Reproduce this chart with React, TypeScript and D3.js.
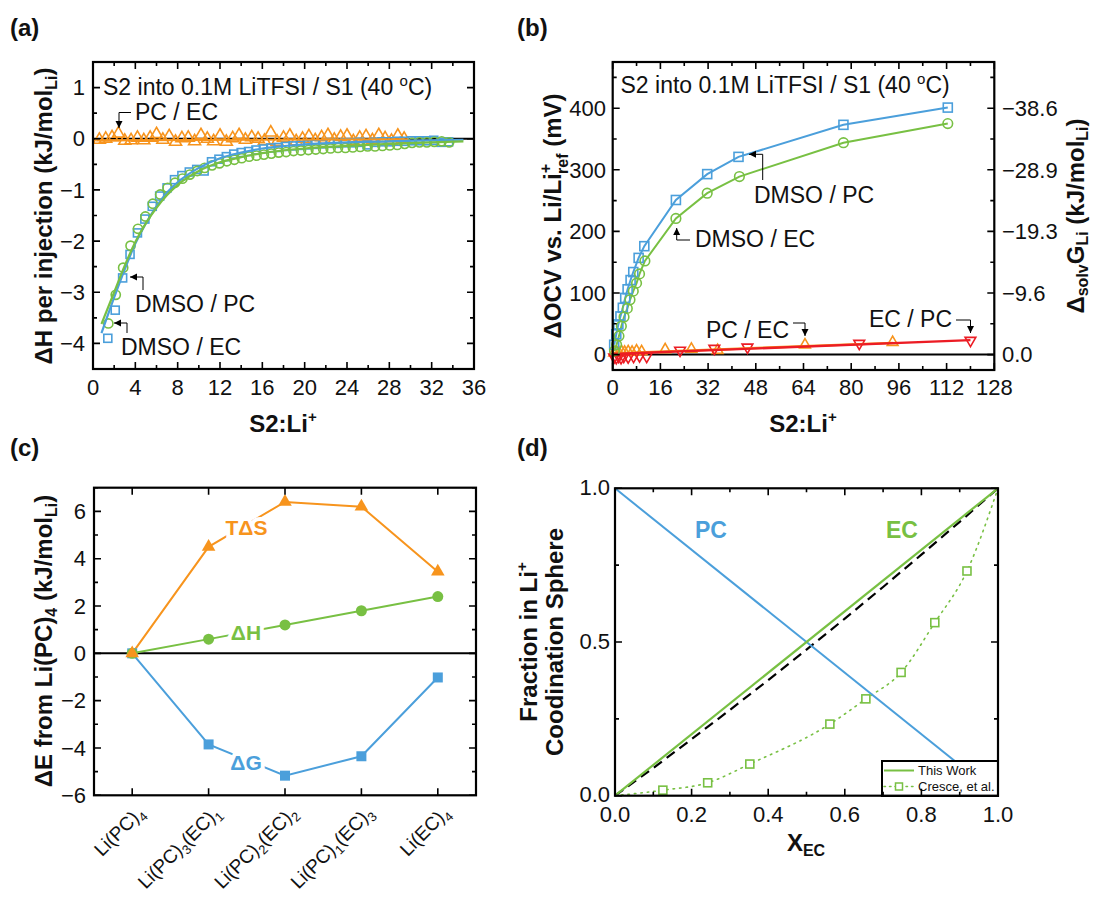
import React from 'react'
import * as d3 from 'd3'

const FONT = 'Arial, "Liberation Sans", Helvetica, sans-serif'
const BLUE = '#4b9fdb'
const ORANGE = '#f7941d'
const GREEN = '#78c043'
const RED = '#ec1c24'

// (a) heat per injection
const pcEcX = [0.6, 1.2, 1.8, 2.4, 3.0, 3.6, 4.2, 4.8, 5.4, 6.0, 6.6, 7.2, 7.8, 8.4, 9.0, 9.6, 10.2, 10.8, 11.4, 12.0,
  12.6, 13.2, 13.8, 14.4, 15.0, 15.6, 16.2, 16.8, 17.4, 18.0, 18.6, 19.2, 19.8, 20.4, 21.0, 21.6, 22.2, 22.8, 23.4, 24.0,
  24.6, 25.2, 25.8, 26.4, 27.0, 27.6, 28.2, 28.8, 29.4]
const pcEcDH = [-0.02, 0.0, 0.03, 0.1, -0.04, -0.03, 0.02, -0.03, 0.02, 0.09, -0.02, 0.05, -0.06, 0.01, 0.02, -0.05, 0.07, 0.0, -0.05, 0.06,
  -0.06, 0.01, 0.07, -0.02, 0.03, 0.0, -0.04, 0.12, -0.06, 0.02, 0.06, -0.05, 0.0, 0.05, -0.03, 0.03, 0.07, -0.02, 0.04, 0.06,
  -0.05, 0.02, 0.05, -0.03, 0.07, 0.01, -0.04, 0.06, 0.0]
const dmsoPcX = [1.4, 2.1, 2.8, 3.5, 4.2, 4.9, 5.6, 6.3, 7.0, 7.7, 8.4, 9.1, 9.8, 10.5, 11.2, 11.9, 12.6, 13.3, 14.0, 14.7,
  15.4, 16.1, 16.8, 17.5, 18.2, 18.9, 19.6, 20.3, 21.0, 21.7, 22.4, 23.1, 23.8, 24.5, 25.2, 25.9, 26.6, 27.3, 28.0, 28.7,
  29.4, 30.1, 30.8, 31.5, 32.2, 32.9, 33.6]
const dmsoPcDH = [-3.9, -3.35, -2.72, -2.26, -1.84, -1.57, -1.32, -1.12, -0.96, -0.8, -0.72, -0.65, -0.6, -0.63, -0.45, -0.4, -0.35, -0.3, -0.27, -0.25,
  -0.22, -0.2, -0.18, -0.17, -0.15, -0.14, -0.13, -0.12, -0.11, -0.1, -0.09, -0.09, -0.08, -0.08, -0.07, -0.12, -0.07, -0.06, -0.06, -0.05,
  -0.05, -0.04, -0.04, -0.04, -0.03, -0.07, -0.06]
const dmsoEcX = [1.45, 2.15, 2.85, 3.55, 4.25, 4.95, 5.65, 6.35, 7.05, 7.75, 8.45, 9.15, 9.85, 10.55, 11.25, 11.95, 12.65, 13.35, 14.05, 14.75,
  15.45, 16.15, 16.85, 17.55, 18.25, 18.95, 19.65, 20.35, 21.05, 21.75, 22.45, 23.15, 23.85, 24.55, 25.25, 25.95, 26.65, 27.35, 28.05, 28.75,
  29.45, 30.15, 30.85, 31.55, 32.25, 32.95, 33.65]
const dmsoEcDH = [-3.61, -3.05, -2.52, -2.09, -1.76, -1.52, -1.27, -1.09, -0.96, -0.86, -0.78, -0.7, -0.63, -0.57, -0.52, -0.48, -0.44, -0.41, -0.38, -0.35,
  -0.33, -0.31, -0.29, -0.27, -0.26, -0.24, -0.23, -0.22, -0.21, -0.2, -0.19, -0.18, -0.18, -0.17, -0.16, -0.15, -0.15, -0.14, -0.13, -0.12,
  -0.1, -0.08, -0.07, -0.07, -0.06, -0.05, -0.07]
const fitX = [0.8, 2, 3, 4, 5, 6, 7, 8, 10, 12, 14, 16, 20, 24, 28, 32, 35]
const dmsoPcFit = [-3.8, -3.1, -2.55, -2.05, -1.65, -1.32, -1.05, -0.85, -0.57, -0.38, -0.27, -0.19, -0.11, -0.07, -0.05, -0.03, -0.02]
const dmsoEcFit = [-3.62, -3.0, -2.48, -2.02, -1.65, -1.35, -1.1, -0.9, -0.63, -0.46, -0.36, -0.28, -0.19, -0.14, -0.1, -0.07, -0.05]
const pcEcFitX = [0.3, 29.8]
const pcEcFit = [-0.03, -0.01]

// (b) OCV shift
const ocvPcX = [0.5, 1.2, 1.9, 2.6, 3.4, 4.2, 5.0, 6.0, 6.9, 8.7, 10.6, 21.2, 31.7, 42.2, 77.4, 112.4]
const ocvPcY = [16, 33, 49, 62, 76, 92, 106, 121, 134, 157, 176, 251, 293, 321, 373, 401]
const ocvEcX = [0.6, 1.3, 2.1, 2.9, 3.8, 4.9, 5.8, 6.9, 8.0, 9.0, 10.8, 21.2, 31.7, 42.5, 77.4, 112.4]
const ocvEcY = [6, 16, 30, 46, 61, 75, 89, 103, 116, 131, 152, 221, 262, 289, 344, 375]
const ocvPcEcX = [0.5, 1.3, 2.1, 3.0, 4.0, 5.2, 6.5, 8.0, 9.7, 17.6, 26.4, 35.2, 64.5, 93.9]
const ocvPcEcY = [3, 4, 3, 5, 4, 5, 4, 6, 5, 8, 9, 7, 16, 20]
const ocvEcPcX = [0.5, 1.2, 2.0, 2.8, 3.7, 5.2, 7.0, 9.0, 11.4, 22.6, 34.1, 45.2, 82.7, 120]
const ocvEcPcY = [-4, -5, -3, -5, -3, -4, -3, -2, -3, 7, 10, 12, 18, 23]
const ocvPcEcFitX = [0, 94]
const ocvPcEcFit = [2, 19]
const ocvEcPcFitX = [0, 120]
const ocvEcPcFit = [1, 23.5]
const ocvTicks = [0, 100, 200, 300, 400]
const gTickLabels = ['0.0', '\u22129.6', '\u221219.3', '\u221228.9', '\u221238.6']

// (c) cluster energies
const clusters = ['Li(PC)4', 'Li(PC)3(EC)1', 'Li(PC)2(EC)2', 'Li(PC)1(EC)3', 'Li(EC)4']
const tdsVals = [0, 4.5, 6.4, 6.2, 3.45]
const dhVals = [0, 0.6, 1.2, 1.8, 2.4]
const dgVals = [0, -3.85, -5.17, -4.35, -1.02]

// (d) coordination fraction
const fracX = [0, 1]
const pcFrac = [1, 0]
const ecFrac = [0, 1]
const idealX = [0, 0.1, 0.2, 0.3, 0.4, 0.5, 0.6, 0.7, 0.8, 0.9, 1]
const idealY = [0, 0.09, 0.184, 0.279, 0.376, 0.475, 0.576, 0.679, 0.784, 0.891, 1]
const cresceX = [0.125, 0.242, 0.352, 0.561, 0.655, 0.747, 0.835, 0.919]
const cresceY = [0.018, 0.042, 0.103, 0.233, 0.315, 0.401, 0.563, 0.731]

const zip = (xs: number[], ys: number[]) => xs.map((x, i) => [x, ys[i]] as [number, number])

type BoxProps = { l: number; r: number; t: number; b: number; xMaj: number[]; xMin: number[]; yMaj: number[]; yMin: number[] }
function Box({ l, r, t, b, xMaj, xMin, yMaj, yMin }: BoxProps) {
  const M = 7, m = 4
  return (
    <g stroke="#000" strokeWidth={1.6} fill="none">
      {xMaj.map((p, i) => <path key={'a' + i} d={`M${p},${b}V${b - M}M${p},${t}V${t + M}`} />)}
      {xMin.map((p, i) => <path key={'b' + i} d={`M${p},${b}V${b - m}M${p},${t}V${t + m}`} />)}
      {yMaj.map((p, i) => <path key={'c' + i} d={`M${l},${p}H${l + M}M${r},${p}H${r - M}`} />)}
      {yMin.map((p, i) => <path key={'d' + i} d={`M${l},${p}H${l + m}M${r},${p}H${r - m}`} />)}
      <rect x={l} y={t} width={r - l} height={b - t} strokeWidth={2.2} />
    </g>
  )
}

const tri = d3.symbol(d3.symbolTriangle, 62)()
const triSmall = d3.symbol(d3.symbolTriangle, 50)()

// digits in a cluster name are drawn as subscripts
function subscripted(label: string, fs: number) {
  const parts = label.split(/(\d)/).filter(s => s !== '')
  return parts.map((p, i) => /\d/.test(p)
    ? <tspan key={i} fontSize={fs * 0.68} dy={5}>{p}</tspan>
    : <tspan key={i} dy={i > 0 ? -5 : 0}>{p}</tspan>)
}

function PanelA() {
  const x = d3.scaleLinear().domain([0, 36]).range([93, 474])
  const y = d3.scaleLinear().domain([-4.5, 1.5]).range([369, 62])
  const line = d3.line<[number, number]>().x(d => x(d[0])).y(d => y(d[1]))
  const fit = d3.line<[number, number]>().x(d => x(d[0])).y(d => y(d[1])).curve(d3.curveMonotoneX)
  return (
    <g>
      <text x={10} y={36} fontSize={24} fontWeight="bold">(a)</text>
      <line x1={93} x2={474} y1={y(0)} y2={y(0)} stroke="#000" strokeWidth={2} />
      <g fill="none" stroke={ORANGE} strokeWidth={1.6}>
        {zip(pcEcX, pcEcDH).map((d, i) => <path key={i} d={tri!} transform={`translate(${x(d[0])},${y(d[1])})`} />)}
      </g>
      <g fill="none" stroke={BLUE} strokeWidth={1.6}>
        {zip(dmsoPcX, dmsoPcDH).map((d, i) => <rect key={i} x={x(d[0]) - 4} y={y(d[1]) - 4} width={8} height={8} />)}
      </g>
      <g fill="none" stroke={GREEN} strokeWidth={1.6}>
        {zip(dmsoEcX, dmsoEcDH).map((d, i) => <circle key={i} cx={x(d[0])} cy={y(d[1])} r={4.6} />)}
      </g>
      <path d={line(zip(pcEcFitX, pcEcFit))!} stroke={ORANGE} strokeWidth={2.2} fill="none" />
      <path d={fit(zip(fitX, dmsoPcFit))!} stroke={BLUE} strokeWidth={2.2} fill="none" />
      <path d={fit(zip(fitX, dmsoEcFit))!} stroke={GREEN} strokeWidth={2.2} fill="none" />
      <Box l={93} r={474} t={62} b={369}
        xMaj={d3.range(0, 37, 4).map(x)} xMin={d3.range(2, 36, 4).map(x)}
        yMaj={d3.range(-4, 2, 1).map(y)} yMin={d3.range(-4.5, 1.6, 1).map(y)} />
      <g fontSize={22} textAnchor="middle">
        {d3.range(0, 37, 4).map(v => <text key={v} x={x(v)} y={395}>{v}</text>)}
      </g>
      <g fontSize={22} textAnchor="end">
        {d3.range(-4, 2, 1).map(v => <text key={v} x={85} y={y(v)} dy="0.35em">{d3.format('d')(v)}</text>)}
      </g>
      <text x={103} y={95} fontSize={23}>S2 into 0.1M LiTFSI / S1 (40 <tspan fontSize={15} dy={-9}>o</tspan><tspan dy={9}>C)</tspan></text>
      <g fontSize={23}>
        <text x={135} y={120}>PC / EC</text>
        <text x={135} y={312}>DMSO / PC</text>
        <text x={121} y={355}>DMSO / EC</text>
      </g>
      <g fill="none" stroke="#000" strokeWidth={1} markerEnd="url(#arr)">
        <polyline points="131,112.5 119,112.5 119,128" />
        <polyline points="143,290 143,277 130,277" />
        <polyline points="127,333 127,323 114,323" />
      </g>
      <text transform="translate(52,216) rotate(-90)" fontSize={24} fontWeight="bold" textAnchor="middle">
        ΔH per injection (kJ/mol<tspan fontSize={16} dy={5}>Li</tspan><tspan dy={-5}>)</tspan>
      </text>
      <text x={283} y={432} fontSize={24} fontWeight="bold" textAnchor="middle">S2:Li<tspan fontSize={15} dy={-10}>+</tspan></text>
    </g>
  )
}

function PanelB() {
  const x = d3.scaleLinear().domain([0, 128]).range([612.7, 994.3])
  const y = d3.scaleLinear().domain([-25, 475]).range([370, 62])
  const line = d3.line<[number, number]>().x(d => x(d[0])).y(d => y(d[1]))
  return (
    <g>
      <text x={517} y={36} fontSize={24} fontWeight="bold">(b)</text>
      <line x1={612.7} x2={994.3} y1={y(0)} y2={y(0)} stroke="#000" strokeWidth={2} />
      <g fill="none" stroke={ORANGE} strokeWidth={1.6}>
        {zip(ocvPcEcX, ocvPcEcY).map((d, i) => <path key={i} d={triSmall!} transform={`translate(${x(d[0])},${y(d[1])})`} />)}
      </g>
      <g fill="none" stroke={RED} strokeWidth={1.6}>
        {zip(ocvEcPcX, ocvEcPcY).map((d, i) => <path key={i} d={triSmall!} transform={`translate(${x(d[0])},${y(d[1])}) rotate(180)`} />)}
      </g>
      <path d={line(zip(ocvPcEcFitX, ocvPcEcFit))!} stroke={ORANGE} strokeWidth={2.4} fill="none" />
      <path d={line(zip(ocvEcPcFitX, ocvEcPcFit))!} stroke={RED} strokeWidth={2.4} fill="none" />
      <path d={line(zip(ocvPcX, ocvPcY))!} stroke={BLUE} strokeWidth={2} fill="none" />
      <path d={line(zip(ocvEcX, ocvEcY))!} stroke={GREEN} strokeWidth={2} fill="none" />
      <g fill="none" stroke={BLUE} strokeWidth={1.6}>
        {zip(ocvPcX, ocvPcY).map((d, i) => <rect key={i} x={x(d[0]) - 4.5} y={y(d[1]) - 4.5} width={9} height={9} />)}
      </g>
      <g fill="none" stroke={GREEN} strokeWidth={1.6}>
        {zip(ocvEcX, ocvEcY).map((d, i) => <circle key={i} cx={x(d[0])} cy={y(d[1])} r={4.8} />)}
      </g>
      <Box l={612.7} r={994.3} t={62} b={370}
        xMaj={d3.range(0, 129, 16).map(x)} xMin={d3.range(8, 128, 16).map(x)}
        yMaj={ocvTicks.map(y)} yMin={d3.range(-0, 475, 50).filter(v => v % 100 !== 0).map(y)} />
      <g fontSize={22} textAnchor="middle">
        {d3.range(0, 129, 16).map(v => <text key={v} x={x(v)} y={395}>{v}</text>)}
      </g>
      <g fontSize={22} textAnchor="end">
        {ocvTicks.map(v => <text key={v} x={606} y={y(v)} dy="0.35em">{v}</text>)}
      </g>
      <g fontSize={22} textAnchor="start">
        {ocvTicks.map((v, i) => <text key={v} x={1002} y={y(v)} dy="0.35em">{gTickLabels[i]}</text>)}
      </g>
      <text x={620.5} y={93} fontSize={23}>S2 into 0.1M LiTFSI / S1 (40 <tspan fontSize={15} dy={-9}>o</tspan><tspan dy={9}>C)</tspan></text>
      <g fontSize={23}>
        <text x={754} y={203}>DMSO / PC</text>
        <text x={695} y={247}>DMSO / EC</text>
        <text x={706} y={338}>PC / EC</text>
        <text x={869} y={327}>EC / PC</text>
      </g>
      <g fill="none" stroke="#000" strokeWidth={1} markerEnd="url(#arr)">
        <polyline points="762.7,180 762.7,154.3 749,154.3" />
        <polyline points="690,240 676.7,240 676.7,228" />
        <polyline points="793,323 805,323 805,336" />
        <polyline points="956,320 970.5,320 970.5,333" />
      </g>
      <text transform="translate(561,216) rotate(-90)" fontSize={24} fontWeight="bold" textAnchor="middle">
        ΔOCV vs. Li/Li<tspan fontSize={16} dy={-10}>+</tspan><tspan fontSize={16} dx={-10} dy={17}>ref</tspan><tspan dy={-7}> (mV)</tspan>
      </text>
      <text transform="translate(1084,216) rotate(-90)" fontSize={24} fontWeight="bold" textAnchor="middle">
        Δ<tspan fontSize={16} dy={4}>solv</tspan><tspan dy={-4}>G</tspan><tspan fontSize={16} dy={4}>Li</tspan><tspan dy={-4}> (kJ/mol</tspan><tspan fontSize={16} dy={4}>Li</tspan><tspan dy={-4}>)</tspan>
      </text>
      <text x={803} y={432} fontSize={24} fontWeight="bold" textAnchor="middle">S2:Li<tspan fontSize={15} dy={-10}>+</tspan></text>
    </g>
  )
}

function PanelC() {
  const x = d3.scalePoint<string>().domain(clusters).range([94, 476]).padding(0.5)
  const y = d3.scaleLinear().domain([-6, 7]).range([795.3, 487.7])
  const line = d3.line<number>().x((_, i) => x(clusters[i])!).y(d => y(d))
  const halo = { stroke: '#fff', strokeWidth: 8, paintOrder: 'stroke' as const }
  return (
    <g>
      <text x={10} y={456} fontSize={24} fontWeight="bold">(c)</text>
      <line x1={94} x2={476} y1={y(0)} y2={y(0)} stroke="#000" strokeWidth={2} />
      <path d={line(tdsVals)!} stroke={ORANGE} strokeWidth={2} fill="none" />
      <path d={line(dhVals)!} stroke={GREEN} strokeWidth={2} fill="none" />
      <path d={line(dgVals)!} stroke={BLUE} strokeWidth={2} fill="none" />
      {dgVals.map((v, i) => <rect key={'g' + i} x={x(clusters[i])! - 5} y={y(v) - 5} width={10} height={10} fill={BLUE} />)}
      {dhVals.map((v, i) => <circle key={'h' + i} cx={x(clusters[i])} cy={y(v)} r={5.5} fill={GREEN} />)}
      {tdsVals.map((v, i) => <path key={'s' + i} d={d3.symbol(d3.symbolTriangle, 80)()!} transform={`translate(${x(clusters[i])},${y(v)})`} fill={ORANGE} />)}
      <g fontSize={21} fontWeight="bold" textAnchor="middle" {...halo}>
        <text x={246.5} y={535} fill={ORANGE}>TΔS</text>
        <text x={246} y={640} fill={GREEN}>ΔH</text>
        <text x={246} y={770} fill={BLUE}>ΔG</text>
      </g>
      <Box l={94} r={476} t={487.7} b={795.3}
        xMaj={clusters.map(c => x(c)!)} xMin={[]}
        yMaj={d3.range(-6, 7, 2).map(y)} yMin={d3.range(-5, 8, 2).map(y)} />
      <g fontSize={22} textAnchor="end">
        {d3.range(-6, 7, 2).map(v => <text key={v} x={86} y={y(v)} dy="0.35em">{d3.format('d')(v)}</text>)}
      </g>
      <g fontSize={19} textAnchor="end">
        {clusters.map(c => (
          <text key={c} transform={`translate(${(x(c) as number) + 13},${814}) rotate(-45)`}>{subscripted(c, 19)}</text>
        ))}
      </g>
      <text transform="translate(52,641) rotate(-90)" fontSize={24} fontWeight="bold" textAnchor="middle">
        ΔE from Li(PC)<tspan fontSize={16} dy={5}>4</tspan><tspan dy={-5}> (kJ/mol</tspan><tspan fontSize={16} dy={5}>Li</tspan><tspan dy={-5}>)</tspan>
      </text>
    </g>
  )
}

function PanelD() {
  const x = d3.scaleLinear().domain([0, 1]).range([615, 998])
  const y = d3.scaleLinear().domain([0, 1]).range([795.7, 488.3])
  const line = d3.line<[number, number]>().x(d => x(d[0])).y(d => y(d[1]))
  const dotted = d3.line<[number, number]>().x(d => x(d[0])).y(d => y(d[1])).curve(d3.curveMonotoneX)
  return (
    <g>
      <text x={517} y={456} fontSize={24} fontWeight="bold">(d)</text>
      <path d={dotted(zip([0, ...cresceX, 1], [0, ...cresceY, 1]))!} stroke={GREEN} strokeWidth={1.6} strokeDasharray="1.5 5" strokeLinecap="round" fill="none" />
      <path d={line(zip(idealX, idealY))!} stroke="#000" strokeWidth={2.2} strokeDasharray="10 6" fill="none" />
      <path d={line(zip(fracX, pcFrac))!} stroke={BLUE} strokeWidth={2} fill="none" />
      <path d={line(zip(fracX, ecFrac))!} stroke={GREEN} strokeWidth={2.2} fill="none" />
      <g fill="#fff" stroke={GREEN} strokeWidth={1.6}>
        {zip(cresceX, cresceY).map((d, i) => <rect key={i} x={x(d[0]) - 4} y={y(d[1]) - 4} width={8} height={8} />)}
      </g>
      <g fontSize={23} fontWeight="bold" textAnchor="middle">
        <text x={711} y={538} fill={BLUE}>PC</text>
        <text x={902} y={538} fill={GREEN}>EC</text>
      </g>
      <g>
        <rect x={882} y={761} width={116} height={35} fill="#fff" stroke="#000" strokeWidth={2} />
        <line x1={884} x2={914} y1={770.5} y2={770.5} stroke={GREEN} strokeWidth={2} />
        <line x1={884} x2={914} y1={786.5} y2={786.5} stroke={GREEN} strokeWidth={1.5} strokeDasharray="1.5 4" strokeLinecap="round" />
        <rect x={895.5} y={783} width={7} height={7} fill="#fff" stroke={GREEN} strokeWidth={1.5} />
        <text x={918} y={775} fontSize={13}>This Work</text>
        <text x={918} y={791} fontSize={13}>Cresce, et al.</text>
      </g>
      <Box l={615} r={998} t={488.3} b={795.7}
        xMaj={d3.range(0, 1.01, 0.2).map(x)} xMin={d3.range(0.1, 1, 0.2).map(x)}
        yMaj={[0, 0.5, 1].map(y)} yMin={[0.25, 0.75].map(y)} />
      <g fontSize={22} textAnchor="middle">
        {d3.range(0, 1.01, 0.2).map(v => <text key={v} x={x(v)} y={822}>{d3.format('.1f')(v)}</text>)}
      </g>
      <g fontSize={22} textAnchor="end">
        {[0, 0.5, 1].map(v => <text key={v} x={610} y={y(v) - 1} dy="0.35em">{d3.format('.1f')(v)}</text>)}
      </g>
      <text x={806} y={851} fontSize={24} fontWeight="bold" textAnchor="middle">X<tspan fontSize={16} dy={5}>EC</tspan></text>
      <g fontSize={24} fontWeight="bold" textAnchor="middle">
        <text transform="translate(537,642) rotate(-90)">Fraction in Li<tspan fontSize={15} dy={-10}>+</tspan></text>
        <text transform="translate(563,642) rotate(-90)">Coodination Sphere</text>
      </g>
    </g>
  )
}

export default function App() {
  return (
    <svg width={1094} height={898} style={{ position: 'absolute', left: 0, top: 0, background: '#fff' }}
      fontFamily={FONT} fill="#111">
      <defs>
        <marker id="arr" markerUnits="userSpaceOnUse" markerWidth={8} markerHeight={8} refX={7} refY={3.5} orient="auto">
          <path d="M0,0 L7,3.5 L0,7 z" fill="#000" />
        </marker>
      </defs>
      <rect width={1094} height={898} fill="#fff" />
      <PanelA />
      <PanelB />
      <PanelC />
      <PanelD />
    </svg>
  )
}
